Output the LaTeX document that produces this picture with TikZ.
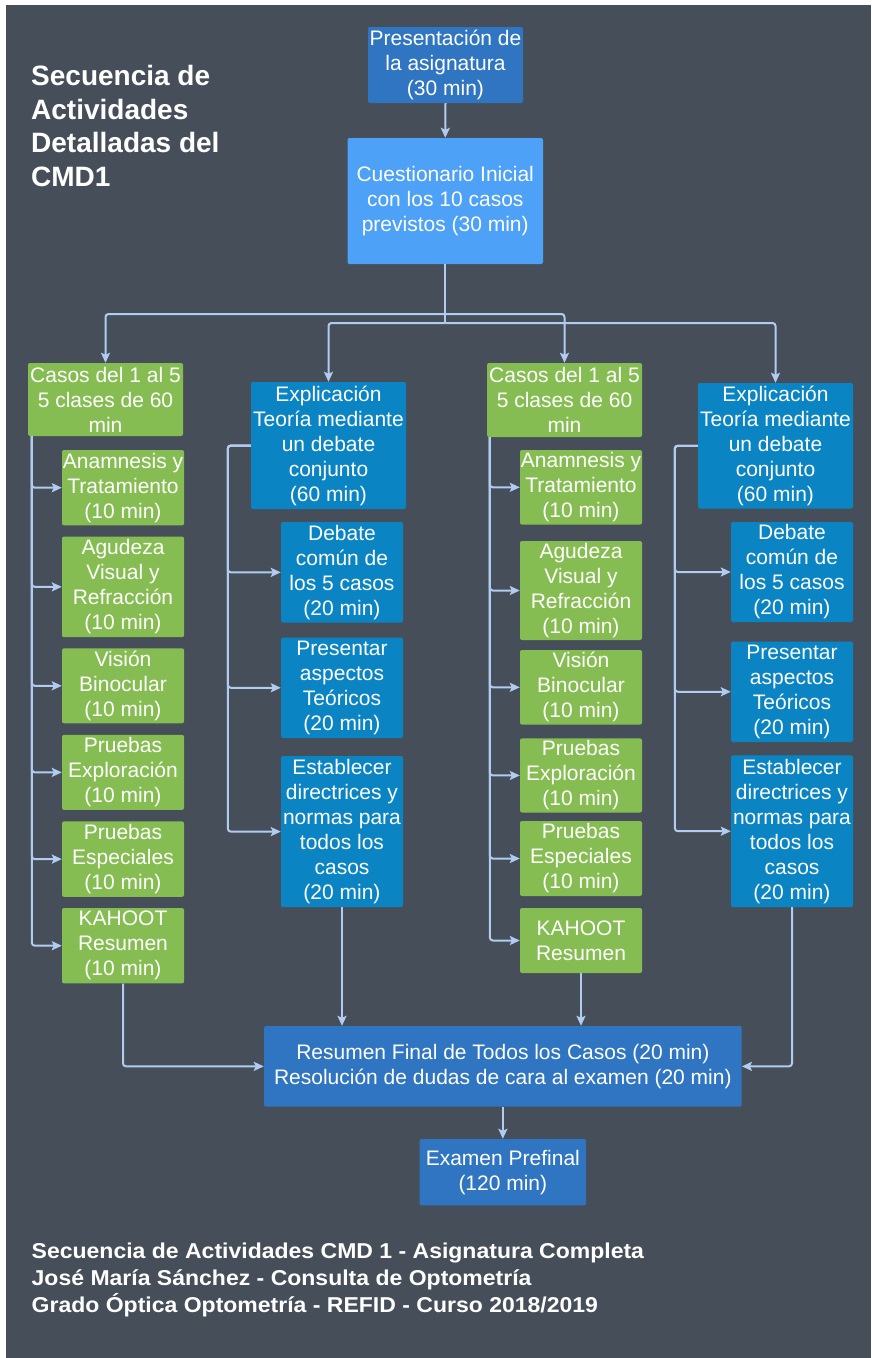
\documentclass[tikz,border=0pt]{standalone}
\usepackage{fontspec}
\setmainfont{Liberation Sans}
\newfontfamily\footfont{Liberation Sans}[FakeStretch=1.07]
\usetikzlibrary{arrows.meta}
\definecolor{bgc}{HTML}{464F59}
\definecolor{bluemid}{HTML}{2F75C1}
\definecolor{bluelight}{HTML}{4DA1F7}
\definecolor{bluecyan}{HTML}{0B84C4}
\definecolor{greenc}{HTML}{86BD52}
\definecolor{linec}{HTML}{B1CCF0}
\tikzset{
  bx/.style 2 args={rounded corners=2pt, inner sep=0pt, align=center, text=white,
    font=\fontsize{21}{25}\selectfont, minimum width=#1, minimum height=#2},
  gbox/.style={fill=greenc},
  cbox/.style={fill=bluecyan},
  mbox/.style={fill=bluemid},
  ln/.style={draw=linec, line width=2pt},
  arr/.style={ln, rounded corners=3pt, -{Stealth[length=10pt,width=9pt,inset=2pt]}},
  ttl/.style={text=white, align=left, inner sep=0pt, anchor=north west}
}
\begin{document}
\begin{tikzpicture}[x=1pt,y=-1pt]
\useasboundingbox (0,0) rectangle (871,1358);
\fill[white] (0,0) rectangle (871,1358);
\fill[bgc] (6,5) rectangle (871,1358);

% title
\node[ttl, font=\fontsize{28}{33.4}\selectfont\bfseries] (title) at (31,65.5)
  {Secuencia de\\Actividades\\Detalladas del\\CMD1};

% top
\node[bx={155pt}{76pt}, mbox] (pres) at (445.5,65) {Presentación de\\la asignatura\\(30 min)};
\node[bx={195.5pt}{126pt}, fill=bluelight] (cues) at (445.25,201) {Cuestionario Inicial\\con los 10 casos\\previstos (30 min)};

% column 1
\node[bx={155pt}{73pt}, gbox] (g1h) at (105.5,399.5) {Casos del 1 al 5\\5 clases de 60\\min};
\node[bx={122pt}{75.4pt}, gbox] (a1) at (123,487.7) {Anamnesis y\\Tratamiento\\(10 min)};
\node[bx={122pt}{100.7pt}, gbox] (b1) at (123,586.85) {Agudeza\\Visual y\\Refracción\\(10 min)};
\node[bx={122pt}{75pt}, gbox] (c1) at (123,685.8) {Visión\\Binocular\\(10 min)};
\node[bx={122pt}{75pt}, gbox] (d1) at (123,772.35) {Pruebas\\Exploración\\(10 min)};
\node[bx={122pt}{75.4pt}, gbox] (e1) at (123,859.1) {Pruebas\\Especiales\\(10 min)};
\node[bx={122pt}{75.4pt}, gbox] (f1) at (123,945.7) {KAHOOT\\Resumen\\(10 min)};

% column 2
\node[bx={155pt}{127pt}, cbox] (t2) at (328.5,445.5) {Explicación\\Teoría mediante\\un debate\\conjunto\\(60 min)};
\node[bx={122pt}{100.7pt}, cbox] (p2a) at (342,572.35) {Debate\\común de\\los 5 casos\\(20 min)};
\node[bx={122pt}{100.5pt}, cbox] (p2b) at (342,687.75) {Presentar\\aspectos\\Teóricos\\(20 min)};
\node[bx={122pt}{151.2pt}, cbox] (p2c) at (342,831.6) {Establecer\\directrices y\\normas para\\todos los\\casos\\(20 min)};

% column 3
\node[bx={155pt}{74pt}, gbox] (g3h) at (564.5,400) {Casos del 1 al 5\\5 clases de 60\\min};
\node[bx={122pt}{74.6pt}, gbox] (a3) at (581,487.3) {Anamnesis y\\Tratamiento\\(10 min)};
\node[bx={122pt}{99pt}, gbox] (b3) at (581,590.5) {Agudeza\\Visual y\\Refracción\\(10 min)};
\node[bx={122pt}{74.6pt}, gbox] (c3) at (581,687.3) {Visión\\Binocular\\(10 min)};
\node[bx={122pt}{74.1pt}, gbox] (d3) at (581,775.45) {Pruebas\\Exploración\\(10 min)};
\node[bx={122pt}{75pt}, gbox] (e3) at (581,858.5) {Pruebas\\Especiales\\(10 min)};
\node[bx={122pt}{65pt}, gbox] (f3) at (581,940.5) {KAHOOT\\Resumen};

% column 4
\node[bx={155pt}{125.5pt}, cbox] (t4) at (775.5,445.75) {Explicación\\Teoría mediante\\un debate\\conjunto\\(60 min)};
\node[bx={122pt}{100pt}, cbox] (p4a) at (792,572) {Debate\\común de\\los 5 casos\\(20 min)};
\node[bx={122pt}{100.5pt}, cbox] (p4b) at (792,691.75) {Presentar\\aspectos\\Teóricos\\(20 min)};
\node[bx={122pt}{151.6pt}, cbox] (p4c) at (792,831.2) {Establecer\\directrices y\\normas para\\todos los\\casos\\(20 min)};

% bottom
\node[bx={477.7pt}{80.7pt}, mbox] (res) at (502.85,1066.35) {Resumen Final de Todos los Casos (20 min)\\Resolución de dudas de cara al examen (20 min)};
\node[bx={166.6pt}{66.3pt}, mbox] (exam) at (502.85,1172.15) {Examen Prefinal\\(120 min)};

% footer
\node[ttl, font=\footfont\fontsize{21.5}{27.3}\selectfont\bfseries] (foot) at (31.5,1242.3)
  {Secuencia de Actividades CMD 1 - Asignatura Completa\\José María Sánchez - Consulta de Optometría\\Grado Óptica Optometría - REFID - Curso 2018/2019};

% connectors
\draw[arr] (pres.south) -- (cues.north);
\coordinate (jA) at (445.25,314);
\coordinate (jB) at (445.25,323);
\draw[ln] (cues.south) -- (jB);
\draw[arr] (jA) -| (g1h.north);
\draw[arr] (jA) -| (g3h.north);
\draw[arr] (jB) -| (t2.north);
\draw[arr] (jB) -| (t4.north);

\foreach \n in {a1,b1,c1,d1,e1,f1} \draw[arr] ([xshift=4pt]g1h.south west) |- (\n.west);
\foreach \n in {a3,b3,c3,d3,e3,f3} \draw[arr] ([xshift=3pt]g3h.south west) |- (\n.west);
\foreach \n in {p2a,p2b,p2c} \draw[arr] (t2.west) -- ++(-23,0) |- (\n.west);
\foreach \n in {p4a,p4b,p4c} \draw[arr] (t4.west) -- ++(-23,0) |- (\n.west);

\draw[arr] (f1.south) |- (res.west);
\draw[arr] (p2c.south) -- (p2c.south |- res.north);
\draw[arr] (f3.south) -- (f3.south |- res.north);
\draw[arr] (p4c.south) |- (res.east);
\draw[arr] (res.south) -- (exam.north);
\end{tikzpicture}
\end{document}
